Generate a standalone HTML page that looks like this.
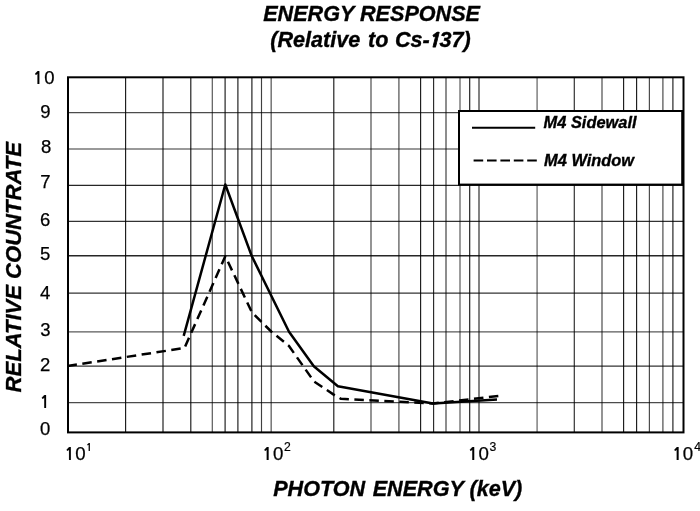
<!DOCTYPE html>
<html><head><meta charset="utf-8"><title>Energy Response</title>
<style>html,body{margin:0;padding:0;background:#fff;}body{width:700px;height:511px;overflow:hidden;}svg{display:block;}</style>
</head><body>
<svg width="700" height="511" viewBox="0 0 700 511">
<rect width="700" height="511" fill="#fff"/>
<line x1="125.6" y1="77.3" x2="125.6" y2="432.4" stroke="#000" stroke-opacity="0.9" stroke-width="1.15"/>
<line x1="163.0" y1="77.3" x2="163.0" y2="432.4" stroke="#000" stroke-opacity="0.8" stroke-width="1.3"/>
<line x1="190.8" y1="77.3" x2="190.8" y2="432.4" stroke="#000" stroke-opacity="0.9" stroke-width="1.15"/>
<line x1="212.3" y1="77.3" x2="212.3" y2="432.4" stroke="#000" stroke-opacity="0.65" stroke-width="1.2"/>
<line x1="225.1" y1="77.3" x2="225.1" y2="432.4" stroke="#000" stroke-opacity="0.9" stroke-width="1.15"/>
<line x1="237.9" y1="77.3" x2="237.9" y2="432.4" stroke="#000" stroke-opacity="0.9" stroke-width="1.15"/>
<line x1="251.9" y1="77.3" x2="251.9" y2="432.4" stroke="#000" stroke-opacity="0.9" stroke-width="1.15"/>
<line x1="261.5" y1="77.3" x2="261.5" y2="432.4" stroke="#000" stroke-opacity="0.75" stroke-width="1.15"/>
<line x1="271.2" y1="77.3" x2="271.2" y2="432.4" stroke="#000" stroke-opacity="0.55" stroke-width="1.5"/>
<line x1="333.8" y1="77.3" x2="333.8" y2="432.4" stroke="#000" stroke-opacity="0.9" stroke-width="1.15"/>
<line x1="371" y1="77.3" x2="371" y2="432.4" stroke="#000" stroke-opacity="0.6" stroke-width="1.4"/>
<line x1="398.9" y1="77.3" x2="398.9" y2="432.4" stroke="#000" stroke-opacity="0.6" stroke-width="1.4"/>
<line x1="420.6" y1="77.3" x2="420.6" y2="432.4" stroke="#000" stroke-opacity="0.9" stroke-width="1.15"/>
<line x1="433.6" y1="77.3" x2="433.6" y2="432.4" stroke="#000" stroke-opacity="0.85" stroke-width="1.15"/>
<line x1="446" y1="77.3" x2="446" y2="432.4" stroke="#000" stroke-opacity="0.75" stroke-width="1.2"/>
<line x1="460" y1="77.3" x2="460" y2="432.4" stroke="#000" stroke-opacity="0.65" stroke-width="1.2"/>
<line x1="469.7" y1="77.3" x2="469.7" y2="432.4" stroke="#000" stroke-opacity="0.9" stroke-width="1.15"/>
<line x1="479" y1="77.3" x2="479" y2="432.4" stroke="#000" stroke-opacity="0.85" stroke-width="1.15"/>
<line x1="537.1" y1="77.3" x2="537.1" y2="432.4" stroke="#000" stroke-opacity="0.5" stroke-width="1.5"/>
<line x1="574.3" y1="77.3" x2="574.3" y2="432.4" stroke="#000" stroke-opacity="0.8" stroke-width="1.2"/>
<line x1="602" y1="77.3" x2="602" y2="432.4" stroke="#000" stroke-opacity="0.65" stroke-width="1.3"/>
<line x1="623.6" y1="77.3" x2="623.6" y2="432.4" stroke="#000" stroke-opacity="0.9" stroke-width="1.15"/>
<line x1="636.6" y1="77.3" x2="636.6" y2="432.4" stroke="#000" stroke-opacity="0.9" stroke-width="1.15"/>
<line x1="649.4" y1="77.3" x2="649.4" y2="432.4" stroke="#000" stroke-opacity="0.7" stroke-width="1.2"/>
<line x1="662.9" y1="77.3" x2="662.9" y2="432.4" stroke="#000" stroke-opacity="0.7" stroke-width="1.2"/>
<line x1="672.9" y1="77.3" x2="672.9" y2="432.4" stroke="#000" stroke-opacity="0.85" stroke-width="1.2"/>
<line x1="68" y1="112.6" x2="683.5" y2="112.6" stroke="#000" stroke-opacity="0.7" stroke-width="1.3"/>
<line x1="68" y1="149" x2="683.5" y2="149" stroke="#000" stroke-opacity="0.8" stroke-width="1.2"/>
<line x1="68" y1="185.3" x2="683.5" y2="185.3" stroke="#000" stroke-opacity="0.85" stroke-width="1.2"/>
<line x1="68" y1="221.4" x2="683.5" y2="221.4" stroke="#000" stroke-opacity="0.8" stroke-width="1.2"/>
<line x1="68" y1="255.8" x2="683.5" y2="255.8" stroke="#000" stroke-opacity="0.85" stroke-width="1.4"/>
<line x1="68" y1="293.2" x2="683.5" y2="293.2" stroke="#000" stroke-opacity="0.8" stroke-width="1.3"/>
<line x1="68" y1="331.8" x2="683.5" y2="331.8" stroke="#000" stroke-opacity="0.65" stroke-width="1.3"/>
<line x1="68" y1="366.2" x2="683.5" y2="366.2" stroke="#000" stroke-opacity="0.8" stroke-width="1.3"/>
<line x1="68" y1="402.6" x2="683.5" y2="402.6" stroke="#000" stroke-opacity="0.7" stroke-width="1.4"/>
<rect x="68" y="77.3" width="615.5" height="355.09999999999997" fill="none" stroke="#000" stroke-width="2"/>
<polyline points="67.5,366 184.5,348 225.3,256.2 252,312.5 271.2,331.5 289,346 314,381.5 335,395.5 341,398.8 433,403.5 498.5,396" fill="none" stroke="#000" stroke-width="2.5" stroke-dasharray="9.5 5.5" stroke-linejoin="round"/>
<polyline points="183.7,335.8 225.3,184.5 251.6,255.7 289,331.8 313.8,366.2 337.9,386.3 433,403.5 497,399.5" fill="none" stroke="#000" stroke-width="2.5" stroke-linejoin="round"/>
<rect x="459" y="111" width="223.2" height="73.6" fill="#fff" stroke="#000" stroke-width="2"/>
<line x1="472" y1="127.7" x2="535.2" y2="127.7" stroke="#000" stroke-width="2"/>
<line x1="473.6" y1="160.4" x2="537" y2="160.4" stroke="#000" stroke-width="2" stroke-dasharray="9.6 3.8"/>
<text x="543.6" y="127.8" font-family="Liberation Sans, Arial, sans-serif" font-weight="bold" font-style="italic" stroke="#000" stroke-width="0.35" font-size="16.4">M4 Sidewall</text>
<text x="544.1" y="165.5" font-family="Liberation Sans, Arial, sans-serif" font-weight="bold" font-style="italic" stroke="#000" stroke-width="0.35" font-size="16.4">M4 Window</text>
<text x="263.2" y="21" font-family="Liberation Sans, Arial, sans-serif" font-weight="bold" font-style="italic" stroke="#000" stroke-width="0.35" font-size="21.6">ENERGY RESPONSE</text>
<text x="270.3" y="46.9" font-family="Liberation Sans, Arial, sans-serif" font-weight="bold" font-style="italic" stroke="#000" stroke-width="0.35" font-size="21.6">(Relative<tspan dx="1.7"> to</tspan><tspan dx="0.6"> Cs-</tspan><tspan x="428.1" font-family="NanumGothic, Liberation Sans, sans-serif" font-weight="800" font-size="19.3" stroke-width="0.8">1</tspan><tspan x="439.49">37)</tspan></text>
<text x="273.2" y="496" font-family="Liberation Sans, Arial, sans-serif" font-weight="bold" font-style="italic" stroke="#000" stroke-width="0.35" font-size="21.6">PHOTON<tspan dx="1.5"> ENERGY (keV)</tspan></text>
<text transform="translate(21.2,392.4) rotate(-90)" x="0" y="0" font-family="Liberation Sans, Arial, sans-serif" font-weight="bold" font-style="italic" stroke="#000" stroke-width="0.35" font-size="22.05">RELATIVE COUNTRATE</text>
<text y="84.3" font-family="Liberation Sans, Arial, sans-serif" font-size="18.5" stroke="#000" stroke-width="0.25"><tspan x="33.10" font-family="NanumGothic, Liberation Sans, sans-serif" font-weight="bold" font-size="16.56" stroke-width="0.2">1</tspan><tspan x="44.26">0</tspan></text>
<text x="40.31" y="117.8" font-family="Liberation Sans, Arial, sans-serif" font-size="18.5" stroke="#000" stroke-width="0.25">9</text>
<text x="41.01" y="153.4" font-family="Liberation Sans, Arial, sans-serif" font-size="18.5" stroke="#000" stroke-width="0.25">8</text>
<text x="40.30" y="187.8" font-family="Liberation Sans, Arial, sans-serif" font-size="18.5" stroke="#000" stroke-width="0.25">7</text>
<text x="40.04" y="226.1" font-family="Liberation Sans, Arial, sans-serif" font-size="18.5" stroke="#000" stroke-width="0.25">6</text>
<text x="40.12" y="260" font-family="Liberation Sans, Arial, sans-serif" font-size="18.5" stroke="#000" stroke-width="0.25">5</text>
<text x="39.91" y="299.4" font-family="Liberation Sans, Arial, sans-serif" font-size="18.5" stroke="#000" stroke-width="0.25">4</text>
<text x="40.16" y="336.3" font-family="Liberation Sans, Arial, sans-serif" font-size="18.5" stroke="#000" stroke-width="0.25">3</text>
<text x="40.01" y="370.6" font-family="Liberation Sans, Arial, sans-serif" font-size="18.5" stroke="#000" stroke-width="0.25">2</text>
<text y="407.5" font-family="Liberation Sans, Arial, sans-serif" font-size="18.5" stroke="#000" stroke-width="0.25"><tspan x="39.85" font-family="NanumGothic, Liberation Sans, sans-serif" font-weight="bold" font-size="16.56" stroke-width="0.2">1</tspan></text>
<text x="40.01" y="435" font-family="Liberation Sans, Arial, sans-serif" font-size="18.5" stroke="#000" stroke-width="0.25">0</text>
<text y="459.7" font-family="Liberation Sans, Arial, sans-serif" font-size="18.7" stroke="#000" stroke-width="0.25"><tspan x="64.60" font-family="NanumGothic, Liberation Sans, sans-serif" font-weight="bold" font-size="16.74" stroke-width="0.2">1</tspan><tspan x="75.30">0</tspan></text>
<text y="450.8" font-family="Liberation Sans, Arial, sans-serif" font-size="12.2" stroke="#000" stroke-width="0.2"><tspan x="85.87" font-family="NanumGothic, Liberation Sans, sans-serif" font-weight="bold" font-size="10.92" stroke-width="0.15">1</tspan></text>
<text y="459.7" font-family="Liberation Sans, Arial, sans-serif" font-size="18.7" stroke="#000" stroke-width="0.25"><tspan x="262.35" font-family="NanumGothic, Liberation Sans, sans-serif" font-weight="bold" font-size="16.74" stroke-width="0.2">1</tspan><tspan x="273.10">0</tspan></text>
<text x="283.91" y="450.8" font-family="Liberation Sans, Arial, sans-serif" font-size="12.2" stroke="#000" stroke-width="0.2">2</text>
<text y="459.7" font-family="Liberation Sans, Arial, sans-serif" font-size="18.7" stroke="#000" stroke-width="0.25"><tspan x="467.85" font-family="NanumGothic, Liberation Sans, sans-serif" font-weight="bold" font-size="16.74" stroke-width="0.2">1</tspan><tspan x="478.40">0</tspan></text>
<text x="489.44" y="450.8" font-family="Liberation Sans, Arial, sans-serif" font-size="12.2" stroke="#000" stroke-width="0.2">3</text>
<text y="459.7" font-family="Liberation Sans, Arial, sans-serif" font-size="18.7" stroke="#000" stroke-width="0.25"><tspan x="672.15" font-family="NanumGothic, Liberation Sans, sans-serif" font-weight="bold" font-size="16.74" stroke-width="0.2">1</tspan><tspan x="682.80">0</tspan></text>
<text x="694.15" y="450.8" font-family="Liberation Sans, Arial, sans-serif" font-size="12.2" stroke="#000" stroke-width="0.2">4</text>
</svg>
</body></html>
